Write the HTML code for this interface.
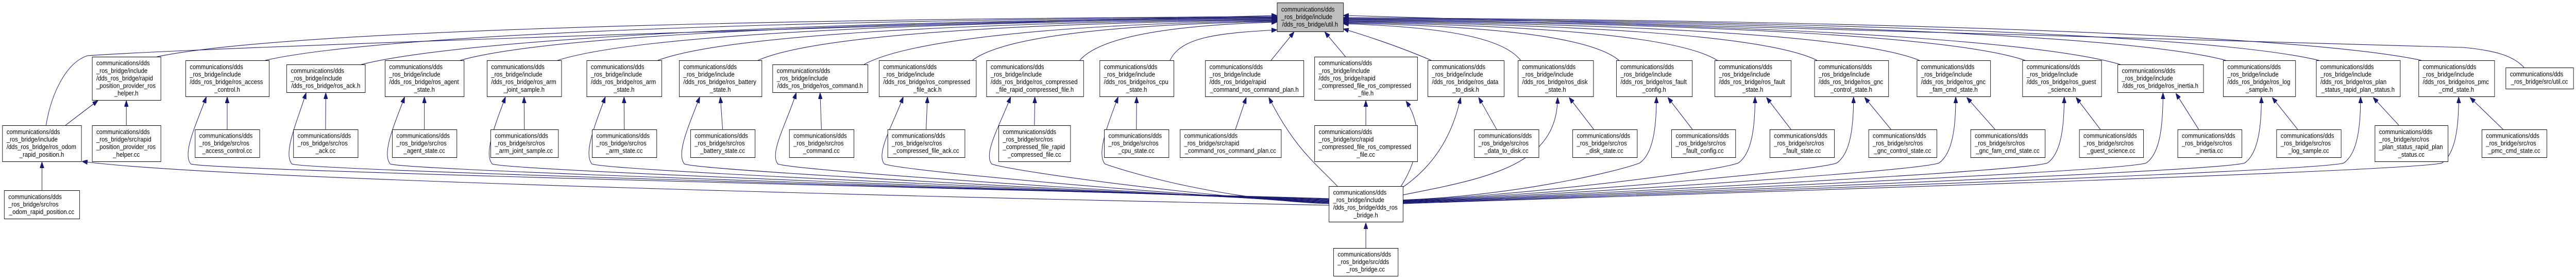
<!DOCTYPE html>
<html><head><meta charset="utf-8">
<meta name="viewport" content="width=5709">
<style>
html,body{margin:0;padding:0;background:#fff;overflow:hidden;width:100%;height:100%;}
svg{display:block;position:absolute;left:0;top:0;width:100vw;height:100vh;}
text{font-family:"Liberation Sans",Arial,sans-serif;font-size:13px;fill:#000;}
</style></head>
<body>
<svg id="g" xmlns="http://www.w3.org/2000/svg" viewBox="0 0 5709 541" preserveAspectRatio="none">
<defs>
<marker id="a" markerUnits="userSpaceOnUse" markerWidth="12" markerHeight="9" refX="12" refY="4.5" orient="auto">
<path d="M0,0 L12,4.5 L0,9 z" fill="#191970" stroke="#191970" stroke-width="1"/>
</marker>
</defs>
<g id="E" fill="none" stroke="#191970" stroke-width="1.1" marker-end="url(#a)"></g>
<g id="N"></g>
</svg>
<script>
var E=document.getElementById('E'),N=document.getElementById('N'),NS='http://www.w3.org/2000/svg';
function p(d){var e=document.createElementNS(NS,'path');e.setAttribute('d',d);E.appendChild(e);}
function box(x1,x2,y1,y2,lines,fill){
 var r=document.createElementNS(NS,'rect');
 r.setAttribute('x',x1+.5);r.setAttribute('y',y1+.5);r.setAttribute('width',x2-x1);r.setAttribute('height',y2-y1);
 r.setAttribute('fill',fill||'#fff');r.setAttribute('stroke','#000');r.setAttribute('stroke-width','1');N.appendChild(r);
 var n=lines.length,h=y2-y1,b=y1+(h-n*14.6)/2+11.2;
 for(var i=0;i<n;i++){var t=document.createElementNS(NS,'text');
  if(i<n-1||n==1){t.setAttribute('x',x1+9.5);}else{t.setAttribute('x',(x1+x2)/2);t.setAttribute('text-anchor','middle');}
  t.setAttribute('y',b+i*14.6);t.textContent=lines[i];N.appendChild(t);}
}
var C='communications/dds',I='_ros_bridge/include',S='_ros_bridge/src/ros',SR='_ros_bridge/src/rapid';
var HY={2:[131,172],3:[125,179],4:[117,187],5:[110,194]},CY={3:[251,305],4:[243,313]};
var H=[
[204,356,['/dds_ros_bridge/rapid','_position_provider_ros','_helper.h'],204,356,[C,SR,'_position_provider_ros','_helper.cc'],'L'],
[411,596,['/dds_ros_bridge/ros_access','_control.h'],432,575,[C,S,'_access_control.cc'],'L'],
[635,809,['/dds_ros_bridge/ros_ack.h'],650,793,[C,S,'_ack.cc'],'L'],
[853,1028,['/dds_ros_bridge/ros_agent','_state.h'],869,1012,[C,S,'_agent_state.cc'],'L'],
[1079,1244,['/dds_ros_bridge/ros_arm','_joint_sample.h'],1087,1237,[C,S,'_arm_joint_sample.cc'],'L'],
[1300,1466,['/dds_ros_bridge/ros_arm','_state.h'],1312,1455,[C,S,'_arm_state.cc'],'L'],
[1505,1688,['/dds_ros_bridge/ros_battery','_state.h'],1530,1673,[C,S,'_battery_state.cc'],'L'],
[1712,1923,['/dds_ros_bridge/ros_command.h'],1749,1892,[C,S,'_command.cc'],'L'],
[1948,2163,['/dds_ros_bridge/ros_compressed','_file_ack.h'],1967,2138,[C,S,'_compressed_file_ack.cc'],'L'],
[2186,2401,['/dds_ros_bridge/ros_compressed','_file_rapid_compressed_file.h'],2213,2372,[C,S,'_compressed_file_rapid','_compressed_file.cc'],'L'],
[2437,2601,['/dds_ros_bridge/ros_cpu','_state.h'],2447,2590,[C,S,'_cpu_state.cc'],'L'],
[2671,2889,['/dds_ros_bridge/rapid','_command_ros_command_plan.h'],2615,2839,[C,SR,'_command_ros_command_plan.cc'],'P'],
[2913,3141,['/dds_ros_bridge/rapid','_compressed_file_ros_compressed','_file.h'],2913,3141,[C,SR,'_compressed_file_ros_compressed','_file.cc'],'Q'],
[3164,3333,['/dds_ros_bridge/ros_data','_to_disk.h'],3267,3410,[C,S,'_data_to_disk.cc'],'D'],
[3364,3531,['/dds_ros_bridge/ros_disk','_state.h'],3485,3628,[C,S,'_disk_state.cc'],'K'],
[3582,3750,['/dds_ros_bridge/ros_fault','_config.h'],3704,3846,[C,S,'_fault_config.cc'],'R'],
[3800,3969,['/dds_ros_bridge/ros_fault','_state.h'],3922,4065,[C,S,'_fault_state.cc'],'R'],
[4021,4185,['/dds_ros_bridge/ros_gnc','_control_state.h'],4141,4292,[C,S,'_gnc_control_state.cc'],'R'],
[4248,4411,['/dds_ros_bridge/ros_gnc','_fam_cmd_state.h'],4367,4532,[C,S,'_gnc_fam_cmd_state.cc'],'R'],
[4482,4657,['/dds_ros_bridge/ros_guest','_science.h'],4608,4750,[C,S,'_guest_science.cc'],'R'],
[4693,4883,['/dds_ros_bridge/ros_inertia.h'],4826,4968,[C,S,'_inertia.cc'],'R'],
[4927,5087,['/dds_ros_bridge/ros_log','_sample.h'],5045,5188,[C,S,'_log_sample.cc'],'R'],
[5133,5319,['/dds_ros_bridge/ros_plan','_status_rapid_plan_status.h'],5263,5425,[C,S,'_plan_status_rapid_plan','_status.cc'],'R'],
[5360,5528,['/dds_ros_bridge/ros_pmc','_cmd_state.h'],5500,5644,[C,S,'_pmc_cmd_state.cc'],'R']
];
var li=0,ri=0;
H.forEach(function(h,k){
 var x1=h[0],x2=h[1],lines=[C,I].concat(h[2]),yy=HY[lines.length],y1=yy[0],y2=yy[1],w=x2-x1;
 var c=h[5],cy=CY[c.length],cx1=h[3],cx2=h[4],cw=cx2-cx1,side=h[6];
 var sx,sy,ux,uy;
 if(side=='L'||side=='P'){sx=x2-8;sy=y1;}else{sx=x1+6;sy=y1;}
 if(side=='L'){ if(k==10){ux=2830;uy=58;} else {ux=2830;uy=32+li*1.2;li++;} }
 else if(side=='P'){ux=2868;uy=62;}
 else if(side=='Q'){ux=2936;uy=62;}
 else if(side=='D'){ux=2977;uy=56;}
 else {ux=2977;uy=46-ri*1.3;ri++;}
 if(side=='P'||side=='Q'){p('M'+(side=='P'?2817:2982)+','+y1+' L'+ux+','+uy);}
 else if(side=='D'){p('M3172,'+y1+' C3100,90 3030,70 '+ux+','+uy);}
 else{var dx=ux-sx;p('M'+sx+','+sy+' C'+(sx+dx*0.1)+','+(sy-45)+' '+(sx+dx*0.45)+','+(uy+6)+' '+ux+','+uy);}
 if(k==0){ p('M280,243 L280,'+(y2+1)); return; }
 if(side=='L'){
  var tx=x1+0.25*w,by=384+k*1.1;
  p('M2945,'+by+' C2700,'+(by-8)+' '+(x1+60)+',333 '+(x1+12)+',318 C'+(x1-8)+',298 '+(tx-22)+',240 '+tx+','+(y2+1));
  var m=(x1+x2)/2;p('M'+((cx1+cx2)/2)+','+cy[0]+' L'+m+','+(y2+1));
 } else if(side=='P'){
  p('M2965,362 C2920,320 2870,290 2812,'+(y2+2));
  p('M2738,251 L2762,'+(y2+2));
 } else if(side=='Q'){
  p('M3105,361 C3150,300 3150,240 3116,'+(y2+2));
  p('M3027,243 L3027,'+(y2+1));
 } else if(side=='D'){
  p('M3109,363 C3180,320 3220,260 3237,'+(y2+2));
  p('M3317,251 L3277,'+(y2+2));
 } else if(side=='K'){
  p('M3109,378 C3300,345 3452,320 3452,'+(y2+2));
  p('M'+(cx1+0.33*cw)+','+cy[0]+' L'+(x1+0.68*w)+','+(y2+2));
 } else {
  var tx=x1+0.53*w,by=386+ri*0.9;
  p('M3109,'+by+' C3350,'+(by-8)+' '+(tx-90)+',334 '+(tx-37)+',316 C'+(tx-8)+',298 '+tx+',250 '+tx+','+(y2+1));
  p('M'+(cx1+0.33*cw)+','+cy[0]+' L'+(x1+0.68*w)+','+(y2+2));
 }
});
p('M102,243 C115,175 150,120 194,108 C400,95 1500,60 2830,30');
p('M145,243 L217,195');
p('M93,369 L93,314');
p('M2945,398 C2200,385 500,350 182,313');
p('M3027,481 L3027,432');
p('M5594,131 C5570,108 5530,98 5460,92 L2977,30');
H.forEach(function(h){
 var lines=[C,I].concat(h[2]),yy=HY[lines.length];box(h[0],h[1],yy[0],yy[1],lines);
 var c=h[5],cy=CY[c.length];box(h[3],h[4],cy[0],cy[1],c);
});
box(5553,5703,131,172,[C,'_ros_bridge/src/util.cc']);
box(2830,2977,5,61,[C,I,'/dds_ros_bridge/util.h'],'#bfbfbf');
box(5,180,243,313,[C,I,'/dds_ros_bridge/ros_odom','_rapid_position.h']);
box(9,176,369,424,[C,S,'_odom_rapid_position.cc']);
box(2945,3109,361,430,[C,I,'/dds_ros_bridge/dds_ros','_bridge.h']);
box(2955,3098,481,535,[C,'_ros_bridge/src/dds','_ros_bridge.cc']);
</script>
</body></html>
